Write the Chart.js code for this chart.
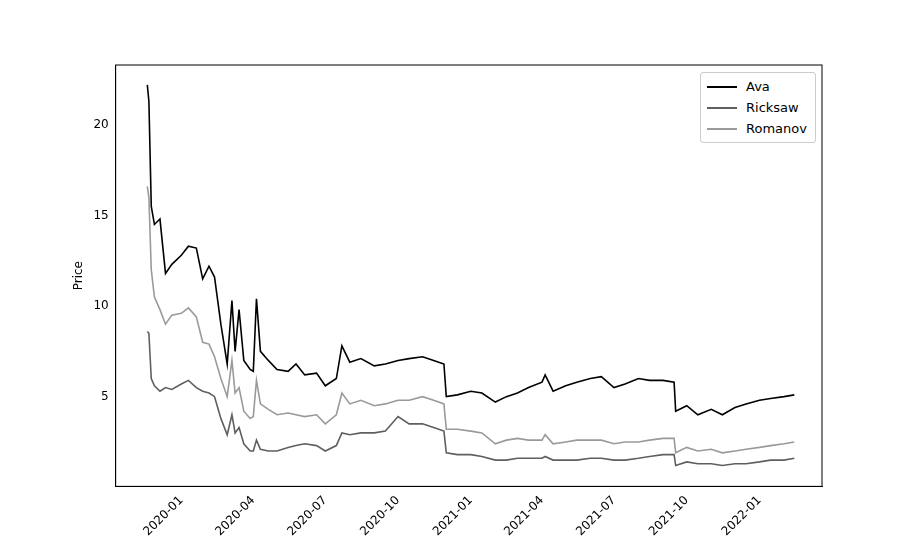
<!DOCTYPE html>
<html><head><meta charset="utf-8">
<script src="https://cdn.jsdelivr.net/npm/chart.js@4/dist/chart.umd.min.js"></script>
<style>
body{margin:0;background:#fff;font-family:'DejaVu Sans',sans-serif}
#wrap{position:relative;width:913px;height:545px}
#legend{position:absolute;left:700px;top:72px;width:114px;border:1px solid #ccc;border-radius:3px;background:#fff;font-size:13px;padding:3px 0}
#legend div{display:flex;align-items:center;height:21px;padding-left:6px}
#legend span{display:inline-block;width:30px;height:2px;margin-right:9px}
</style></head><body>
<div id="wrap"><canvas id="c" width="913" height="545"></canvas>
<div id="legend"></div></div>
<script>
const dates = ['2019-11-19','2019-11-21','2019-11-24','2019-11-28','2019-12-05','2019-12-12','2019-12-20',
 '2020-01-01','2020-01-10','2020-01-20','2020-01-28','2020-02-05','2020-02-12','2020-02-20','2020-02-28',
 '2020-03-05','2020-03-09','2020-03-14','2020-03-20','2020-03-28','2020-04-01','2020-04-05','2020-04-10',
 '2020-04-20','2020-05-01','2020-05-15','2020-05-25','2020-06-05','2020-06-20','2020-07-01','2020-07-15',
 '2020-07-22','2020-08-01','2020-08-15','2020-09-01','2020-09-15','2020-10-01','2020-10-15','2020-11-01',
 '2020-11-15','2020-11-28','2020-12-01','2020-12-15','2021-01-01','2021-01-15','2021-02-01','2021-02-15',
 '2021-03-01','2021-03-15','2021-04-01','2021-04-05','2021-04-15','2021-05-01','2021-05-15','2021-06-01',
 '2021-06-15','2021-07-01','2021-07-15','2021-08-01','2021-08-15','2021-09-01','2021-09-15','2021-09-17',
 '2021-10-01','2021-10-15','2021-11-01','2021-11-15','2021-12-01','2021-12-15','2022-01-01','2022-01-15',
 '2022-02-01','2022-02-14'];
const ava = [22.2,21.3,15.5,14.5,14.8,11.8,12.3,12.8,13.3,13.2,11.5,12.2,11.6,9.0,6.8,10.3,7.5,9.8,7.0,6.5,6.4,
 10.4,7.5,7.0,6.5,6.4,6.8,6.2,6.3,5.6,6.0,7.8,6.9,7.1,6.7,6.8,7.0,7.1,7.2,7.0,6.8,5.0,5.1,5.3,5.2,4.7,5.0,
 5.2,5.5,5.8,6.2,5.3,5.6,5.8,6.0,6.1,5.5,5.7,6.0,5.9,5.9,5.8,4.2,4.5,4.0,4.3,4.0,4.4,4.6,4.8,4.9,5.0,5.1];
const ricksaw = [8.6,8.5,6.0,5.6,5.3,5.5,5.4,5.7,5.9,5.5,5.3,5.2,5.0,3.8,2.9,4.0,3.0,3.3,2.4,2.0,2.0,2.6,2.1,
 2.0,2.0,2.2,2.3,2.4,2.3,2.0,2.3,3.0,2.9,3.0,3.0,3.1,3.9,3.5,3.5,3.3,3.1,1.9,1.8,1.8,1.7,1.5,1.5,1.6,1.6,
 1.6,1.7,1.5,1.5,1.5,1.6,1.6,1.5,1.5,1.6,1.7,1.8,1.8,1.2,1.4,1.3,1.3,1.2,1.3,1.3,1.4,1.5,1.5,1.6];
const romanov = [16.6,16.0,12.0,10.5,9.8,9.0,9.5,9.6,9.9,9.4,8.0,7.9,7.2,6.0,5.0,7.0,5.2,5.5,4.2,3.8,3.9,5.9,
 4.6,4.3,4.0,4.1,4.0,3.9,4.0,3.5,4.0,5.2,4.6,4.8,4.5,4.6,4.8,4.8,5.0,4.8,4.6,3.2,3.2,3.1,3.0,2.4,2.6,2.7,
 2.6,2.6,2.9,2.4,2.5,2.6,2.6,2.6,2.4,2.5,2.5,2.6,2.7,2.7,1.9,2.2,2.0,2.1,1.9,2.0,2.1,2.2,2.3,2.4,2.5];
const tickDates = ['2020-01-01','2020-04-01','2020-07-01','2020-10-01','2021-01-01','2021-04-01','2021-07-01','2021-10-01','2022-01-01'];
const tickLabels = ['2020-01','2020-04','2020-07','2020-10','2021-01','2021-04','2021-07','2021-10','2022-01'];
const yTicks = [5, 10, 15, 20];

const DAY = 86400000, T0 = Date.UTC(2020, 0, 1);
const toDay = s => (Date.parse(s + 'T00:00:00Z') - T0) / DAY;
const series = [
  { label: 'Ava', data: ava, color: '#000000' },
  { label: 'Ricksaw', data: ricksaw, color: '#5f5f5f' },
  { label: 'Romanov', data: romanov, color: '#9a9a9a' }
];
const tickDays = tickDates.map(toDay);

new Chart(document.getElementById('c'), {
  type: 'line',
  data: {
    datasets: series.map(s => ({
      label: s.label,
      data: dates.map((d, i) => ({ x: toDay(d), y: s.data[i] })),
      borderColor: s.color, borderWidth: 1.6, pointRadius: 0, tension: 0
    }))
  },
  options: {
    responsive: false, animation: false,
    layout: { padding: { left: 68, right: 91, top: 65, bottom: 3 } },
    plugins: { legend: { display: false }, tooltip: { enabled: false } },
    scales: {
      x: {
        type: 'linear', min: -83, max: 810,
        afterBuildTicks: ax => { ax.ticks = tickDays.map(v => ({ value: v })); },
        ticks: { color: '#000', font: { family: 'DejaVu Sans', size: 12 }, minRotation: 45, maxRotation: 45,
          callback: v => tickLabels[tickDays.indexOf(v)] },
        grid: { display: false, drawTicks: true, tickLength: 4, tickColor: '#000' },
        border: { color: '#000' }
      },
      y: {
        min: 0.05, max: 23.3,
        afterBuildTicks: ax => { ax.ticks = yTicks.map(v => ({ value: v })); },
        title: { display: true, text: 'Price', color: '#000', font: { family: 'DejaVu Sans', size: 12 } },
        ticks: { color: '#000', font: { family: 'DejaVu Sans', size: 12 } },
        grid: { display: false, tickLength: 4, tickColor: '#000' },
        border: { color: '#000' }
      }
    }
  },
  plugins: [{
    id: 'box',
    afterDraw(ch) {
      const { ctx, chartArea: a } = ch;
      ctx.save(); ctx.strokeStyle = '#000'; ctx.lineWidth = 1;
      ctx.strokeRect(a.left, a.top, a.right - a.left, a.bottom - a.top);
      ctx.restore();
    }
  }]
});

document.getElementById('legend').innerHTML = series.map(s =>
  `<div><span style="background:${s.color}"></span>${s.label}</div>`).join('');
</script>
</body></html>
